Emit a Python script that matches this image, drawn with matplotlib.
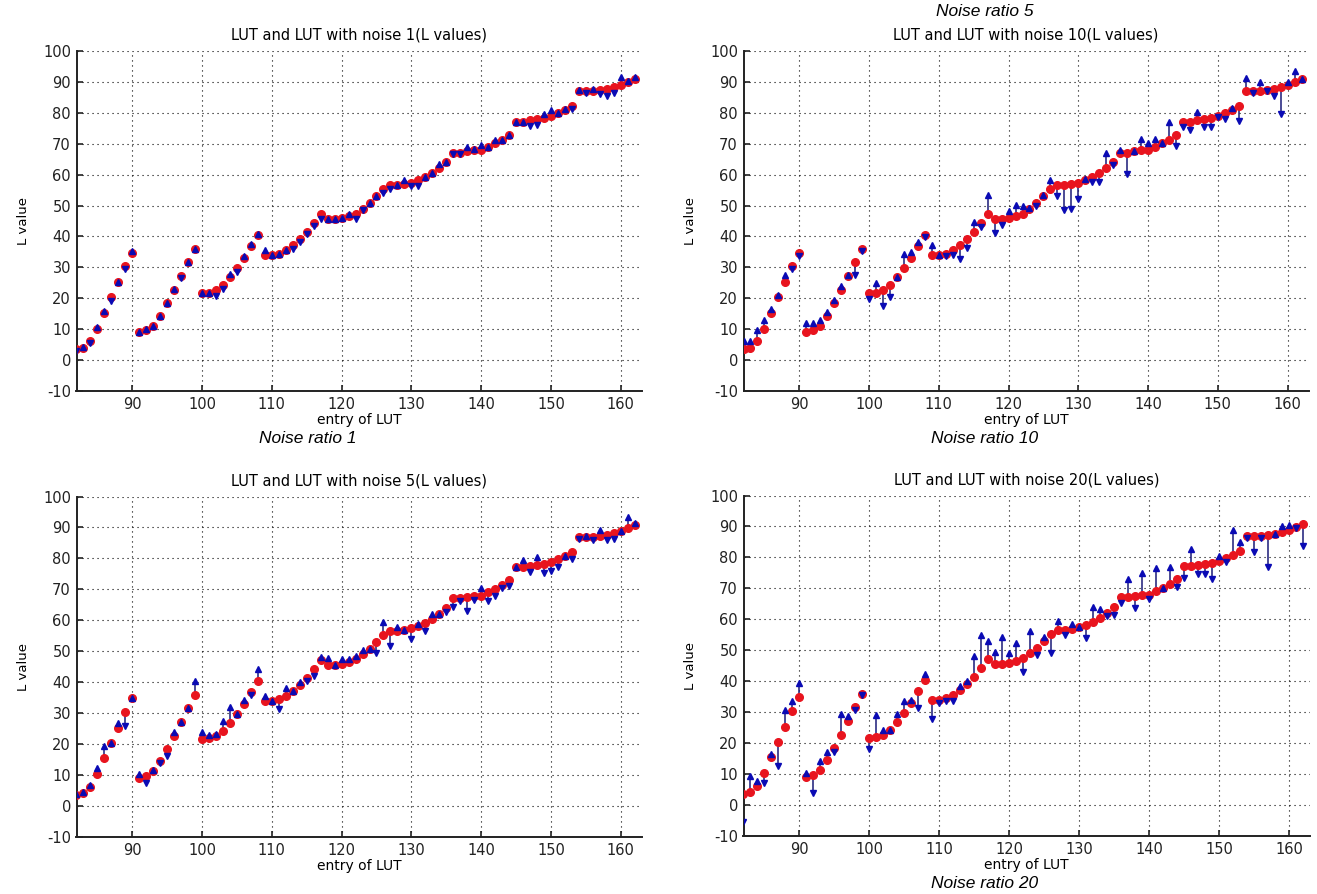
import numpy as np
import matplotlib
matplotlib.use('Agg')
import matplotlib.pyplot as plt

# LUT entries 82..162
first_entry = 82
last_entry = 162

lut = [3.5, 4.1, 6.2, 10.2, 15.4, 20.3, 25.2, 30.4, 34.8,
       9.1, 9.7, 11.2, 14.4, 18.5, 22.6, 27.1, 31.6, 36.0,
       21.7, 21.9, 22.6, 24.2, 26.9, 29.7, 33.0, 36.9, 40.4,
       33.9, 33.9, 34.5, 35.5, 37.1, 39.1, 41.4, 44.2, 47.1,
       45.5, 45.5, 45.9, 46.5, 47.4, 49.0, 50.7, 53.0, 55.2,
       56.5, 56.6, 56.9, 57.4, 58.2, 59.2, 60.5, 62.0, 63.9,
       67.1, 67.1, 67.5, 67.8, 68.0, 69.0, 70.1, 71.3, 72.9,
       77.1, 77.1, 77.5, 77.9, 78.3, 78.9, 79.8, 80.9, 82.1,
       87.0, 86.9, 87.0, 87.2, 87.6, 88.3, 88.9, 89.9, 90.8]

noise1 = [3.1, 4.4, 5.7, 10.9, 16.0, 19.1, 25.2, 29.4, 35.4,
          9.1, 10.2, 11.2, 14.4, 18.5, 23.2, 26.6, 31.6, 36.0,
          21.7, 21.9, 20.8, 23.2, 27.8, 28.6, 33.8, 37.5, 40.8,
          35.6, 33.9, 34.5, 35.5, 36.1, 38.3, 40.7, 43.3, 45.6,
          45.5, 45.5, 45.9, 47.4, 45.6, 48.4, 50.7, 53.0, 54.0,
          55.4, 56.6, 58.1, 56.4, 56.4, 59.2, 60.5, 63.4, 63.9,
          66.7, 66.6, 69.0, 68.3, 69.7, 69.0, 71.0, 71.3, 72.9,
          77.1, 77.1, 75.8, 76.0, 79.4, 80.9, 79.8, 81.2, 81.2,
          87.3, 86.3, 87.5, 85.9, 85.4, 86.2, 91.6, 90.1, 91.6]

noise10 = [6.1, 6.3, 9.9, 13.1, 16.6, 21.1, 27.4, 29.5, 33.8,
           12.0, 12.2, 12.9, 15.5, 19.5, 24.0, 27.6, 27.4, 35.3,
           19.7, 25.1, 17.7, 20.4, 26.9, 34.5, 35.1, 38.1, 39.9,
           37.4, 33.9, 33.8, 34.0, 32.7, 36.4, 44.7, 43.1, 53.5,
           41.0, 43.6, 48.1, 50.2, 50.0, 49.1, 49.8, 53.5, 58.1,
           53.2, 48.7, 48.9, 52.0, 58.6, 57.6, 57.6, 66.8, 63.0,
           67.8, 60.3, 67.5, 71.6, 70.3, 71.6, 70.3, 77.0, 69.2,
           75.4, 74.5, 80.3, 75.4, 75.3, 78.6, 77.8, 81.6, 77.4,
           91.3, 86.2, 89.8, 87.1, 85.5, 79.4, 89.8, 93.5, 90.8]

noise5 = [4.0, 4.5, 6.7, 12.4, 19.4, 20.4, 26.9, 25.7, 34.8,
          10.2, 7.3, 11.5, 13.8, 16.3, 23.9, 27.1, 31.6, 40.3,
          24.0, 23.1, 23.3, 27.6, 32.0, 29.7, 34.4, 36.0, 44.4,
          35.5, 33.9, 31.5, 38.0, 37.1, 40.1, 40.3, 41.9, 48.2,
          47.8, 45.5, 47.6, 47.6, 48.6, 50.3, 50.7, 49.5, 59.4,
          51.6, 57.7, 56.9, 54.1, 58.8, 56.7, 62.0, 62.0, 62.6,
          64.2, 66.1, 63.1, 66.7, 70.4, 66.1, 67.7, 70.4, 71.0,
          77.1, 79.6, 75.6, 80.6, 75.3, 76.0, 77.1, 80.9, 79.8,
          86.2, 87.1, 86.0, 89.2, 86.0, 86.3, 88.9, 93.3, 91.6]

noise20 = [-5.4, 9.4, 7.8, 7.1, 16.4, 12.7, 30.7, 33.6, 39.5,
           10.5, 3.9, 14.3, 17.2, 17.0, 29.5, 28.8, 30.7, 35.4,
           18.0, 29.1, 24.1, 24.2, 29.5, 33.7, 33.9, 31.3, 42.3,
           27.8, 32.9, 33.5, 33.5, 38.6, 40.2, 48.2, 55.0, 53.0,
           49.3, 54.3, 49.1, 52.5, 43.0, 56.3, 48.5, 54.2, 49.0,
           59.3, 55.0, 58.6, 57.4, 54.1, 64.1, 63.3, 61.2, 61.5,
           65.2, 73.0, 63.6, 74.9, 66.6, 76.6, 70.1, 77.0, 70.3,
           73.4, 82.7, 74.6, 74.6, 73.0, 80.4, 78.6, 88.7, 84.9,
           86.3, 81.7, 86.3, 77.0, 87.6, 90.3, 90.5, 89.5, 83.8]

panel_titles = ['LUT and LUT with noise 1(L values)',
                'LUT and LUT with noise 10(L values)',
                'LUT and LUT with noise 5(L values)',
                'LUT and LUT with noise 20(L values)']
captions = ['Noise ratio 1', 'Noise ratio 5', 'Noise ratio 10', 'Noise ratio 20']

W, H = 1317, 894
RED = '#e8141e'
BLUE = '#0a0ab4'
LINE = '#1a1a78'

plt.rcParams['axes.unicode_minus'] = False


def rect(l, t, r, b):
    return [l / W, 1 - b / H, (r - l) / W, (b - t) / H]


def draw_panel(ax, noisy, title):
    x = np.arange(first_entry, last_entry + 1)
    base = np.array(lut)
    noisy = np.array(noisy)
    ax.vlines(x, base, noisy, color=LINE, lw=1.1, zorder=2)
    ax.plot(x, base, 'o', color=RED, mec=RED, ms=5.5, zorder=3)
    up = noisy >= base
    ax.plot(x[up], noisy[up], '^', color=BLUE, mec=BLUE, ms=4.5, zorder=4)
    ax.plot(x[~up], noisy[~up], 'v', color=BLUE, mec=BLUE, ms=4.5, zorder=4)

    ax.set_xlim(82, 163)
    ax.set_ylim(-10, 100)
    ax.set_xticks(range(90, 161, 10))
    ax.set_yticks(range(-10, 101, 10))
    ax.grid(True, color='k', lw=0.8, linestyle=(0, (1, 3.5)))
    ax.set_axisbelow(True)
    for s in ('top', 'right'):
        ax.spines[s].set_visible(False)
    for s in ('left', 'bottom'):
        ax.spines[s].set_linewidth(1.4)
        ax.spines[s].set_color('#222222')
    ax.tick_params(direction='in', length=4, width=1.2, labelsize=10.5,
                   colors='#222222', pad=4)
    ax.set_title(title, fontsize=10.5, pad=8)
    ax.set_xlabel('entry of LUT', fontsize=10, labelpad=1)
    ax.set_ylabel('L value', fontsize=9.5, labelpad=9)


def main():
    fig = plt.figure(figsize=(W / 100, H / 100), dpi=100)

    ax1 = fig.add_axes(rect(76.5, 50.7, 641.6, 391.3))
    ax2 = fig.add_axes(rect(743.5, 50.7, 1308.5, 391.3))
    ax3 = fig.add_axes(rect(76.5, 496.5, 641.6, 837.0))
    ax4 = fig.add_axes(rect(743.5, 495.5, 1310.0, 836.0))

    draw_panel(ax1, noise1, panel_titles[0])
    draw_panel(ax2, noise10, panel_titles[1])
    draw_panel(ax3, noise5, panel_titles[2])
    draw_panel(ax4, noise20, panel_titles[3])

    cap = dict(fontsize=12.5, style='italic', family='Liberation Sans',
               ha='center', va='center')
    fig.text(308 / W, 1 - 438 / H, captions[0], **cap)
    fig.text(985 / W, 1 - 12 / H, captions[1], **cap)
    fig.text(985 / W, 1 - 438 / H, captions[2], **cap)
    fig.text(985 / W, 1 - 884 / H, captions[3], **cap)

    fig.savefig('out.png', dpi=100)


if __name__ == '__main__':
    main()
